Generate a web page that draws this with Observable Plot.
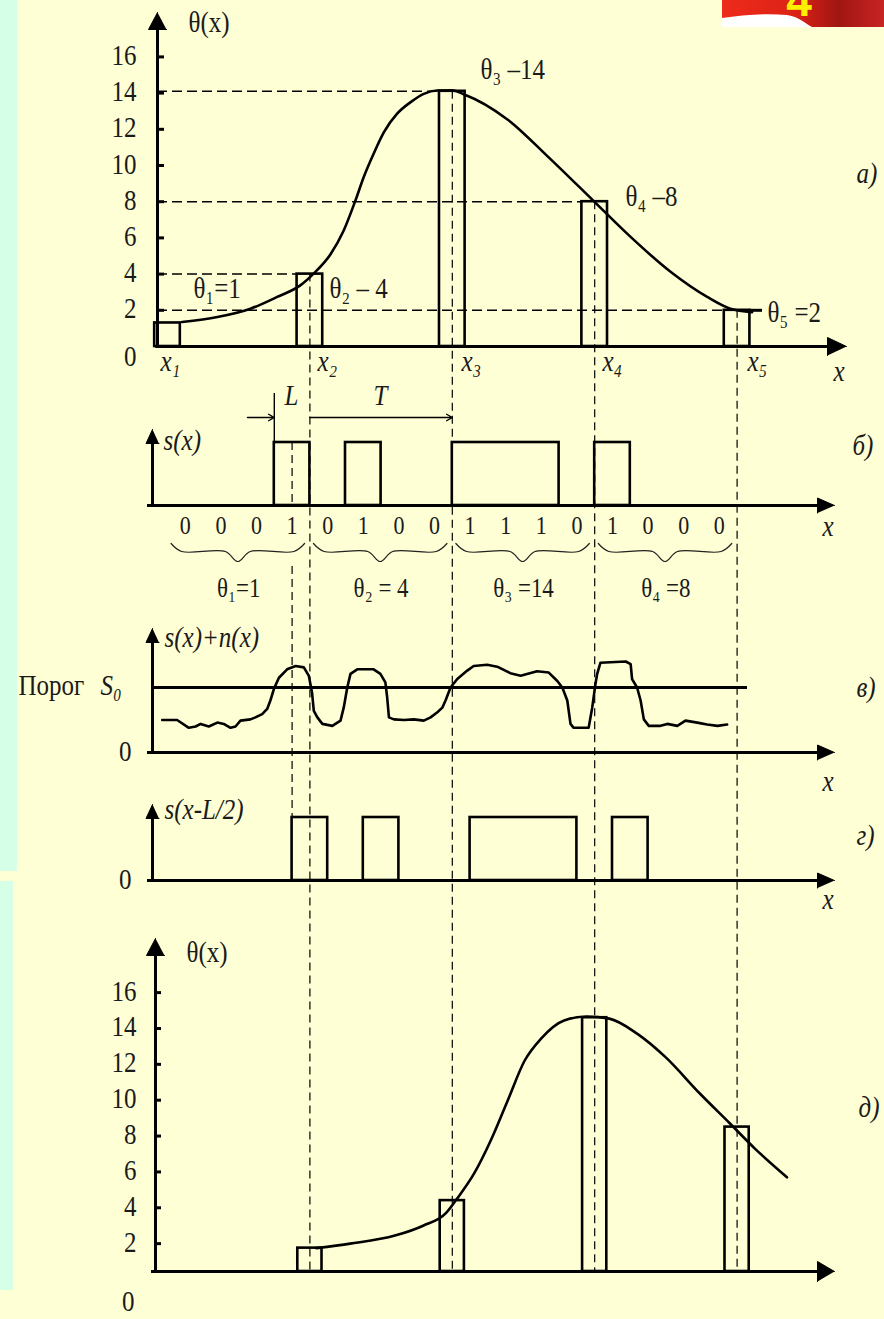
<!DOCTYPE html>
<html lang="ru">
<head>
<meta charset="utf-8">
<script src="https://cdn.jsdelivr.net/npm/d3@7"></script>
<script src="https://cdn.jsdelivr.net/npm/@observablehq/plot@0.6"></script>
<style>
  html, body { margin:0; padding:0; background:#FFFFD5; }
  #wrap { position:relative; width:884px; height:1319px; overflow:hidden; background:#FFFFD5; }
  .strip { position:absolute; left:0; background:#D5FFE6; }
  #chart { position:absolute; left:0; top:0; }
  #badge { position:absolute; left:722px; top:0; }
</style>
</head>
<body>
<div id="wrap">
  <div class="strip" style="top:0;width:17px;height:871px"></div>
  <div class="strip" style="top:881px;width:13px;height:409px"></div>
  <div id="chart"></div>
  <svg id="badge" width="162" height="28" viewBox="0 0 162 28">
    <defs>
      <linearGradient id="rg" x1="0" x2="1" y1="0" y2="0">
        <stop offset="0" stop-color="#EE2B1B"/>
        <stop offset="0.45" stop-color="#DC2216"/>
        <stop offset="0.72" stop-color="#A01612"/>
        <stop offset="1" stop-color="#C82424"/>
      </linearGradient>
    </defs>
    <rect x="0" y="0" width="162" height="27" fill="#ffffff"/>
    <path d="M0,0 H162 V27 H90 C84,24 78,17 65,15 C45,13 20,15 0,18 Z" fill="url(#rg)"/>
    <text x="77" y="16" text-anchor="middle" font-family="'Liberation Sans', Arial, sans-serif" font-weight="bold" font-size="46" fill="#FFF000">4</text>
  </svg>
</div>
<script>
// ================= DATA =================
// positions x1..x5 in bit-slot units
const xPos = [0, 4, 8, 12, 16];
const xNames = ["x₁", "x₂", "x₃", "x₄", "x₅"];
// panel а): sampled values θ(x_i)
const thetaA = [1.3, 4, 14.1, 8, 2];
const thetaALabels = ["θ₁=1", "θ₂ – 4", "θ₃ –14", "θ₄ –8", "θ₅ =2"];
const yTicks = [16, 14, 12, 10, 8, 6, 4, 2];
// panel а): continuous θ(x)
const curveAx = [0.41, 1.40, 2.33, 3.08, 3.74, 4.11, 4.58, 4.95, 5.28, 5.51, 5.79, 6.08, 6.45, 6.83, 7.2, 7.57, 8.0, 8.32, 9.54, 10.67, 11.98, 13.0, 14.13, 15.16, 15.81, 16.42];
const curveAy = [1.35, 1.63, 2.09, 2.74, 3.39, 4.04, 5.1, 6.41, 8.07, 9.35, 10.65, 11.84, 12.86, 13.5, 13.96, 14.14, 14.15, 13.94, 12.56, 10.52, 8.02, 6.07, 4.13, 2.74, 2.09, 1.9];
// panel б): binary code words
const bits = [[0,0,0,1],[0,1,0,0],[1,1,1,0],[1,0,0,0]];
const thetaQ = [1, 4, 14, 8];
const thetaQLabels = ["θ₁=1", "θ₂ = 4", "θ₃ =14", "θ₄ =8"];
const slotL = 1;          // pulse length L (in slots); T = 4 slots
// panel в): signal + noise (threshold S0 = 1)
const noiseX = [-0.15,0.27,0.60,0.79,0.93,1.16,1.40,1.58,1.77,1.91,
  2.05,2.33,2.47,2.66,2.80,2.89,2.99,3.13,3.36,3.60,
  3.83,3.97,4.06,4.11,4.21,4.35,4.63,4.86,4.95,5.05,
  5.14,5.33,5.79,5.98,6.12,6.17,6.22,6.36,6.64,6.92,
  7.20,7.39,7.58,7.72,7.81,7.95,8.14,8.42,8.60,8.98,
  9.26,9.63,9.92,10.38,10.71,10.95,11.09,11.23,11.32,11.41,
  11.83,11.93,12.02,12.07,12.16,12.87,13.01,13.05,13.19,13.29,
  13.38,13.52,13.85,14.04,14.32,14.55,14.88,15.16,15.45,15.72];
const noiseY = [0.50,0.50,0.38,0.40,0.44,0.40,0.46,0.44,0.38,0.40,
  0.49,0.51,0.54,0.59,0.67,0.80,0.98,1.15,1.28,1.33,
  1.31,1.18,0.92,0.64,0.54,0.44,0.41,0.49,0.69,1.00,
  1.21,1.28,1.28,1.21,1.08,0.85,0.54,0.51,0.50,0.51,
  0.49,0.54,0.62,0.69,0.80,1.00,1.13,1.26,1.33,1.35,
  1.32,1.22,1.18,1.25,1.23,1.10,1.00,0.80,0.44,0.38,
  0.38,0.69,1.05,1.21,1.38,1.40,1.36,1.13,1.00,0.80,
  0.51,0.41,0.41,0.44,0.41,0.49,0.46,0.43,0.41,0.43];
const threshold = 1;
// panel д): reconstructed samples and curve
const thetaD = [1.75, 4.4, 14.6, 8.5];
const curveDx = [4.18,5.13,6.39,7.18,7.82,8.13,8.61,9.08,9.56,10.03,10.5,11.14,11.77,12.41,13.2,13.99,14.94,15.8,16.5,17.4];
const curveDy = [1.75,2.0,2.45,3.0,3.7,4.5,5.9,7.75,10.0,12.2,13.45,14.45,14.67,14.55,13.7,12.4,10.4,8.7,7.3,5.7];
const panelTags = ["а)", "б)", "в)", "г)", "д)"];

// ================= LAYOUT =================
const W = 884, H = 1319;
const X0 = 167, SLOT = 35.6;
const u = px => (px - X0) / SLOT;
const A = {base: 346, k: 18.1, axis: u(157)};
const ya = v => A.base - A.k * v;
const B = {base: 505, top: 442, axis: u(152)};
const V = {base: 752, k: 65, axis: u(152)};
const yv = v => V.base - V.k * v;
const G = {base: 880, top: 817, axis: u(152)};
const D = {zero: 1279, k: 17.93, line: 1271, axis: u(155)};
const yd = v => D.zero - D.k * v;
const FONT = "'Liberation Serif','Times New Roman',serif";

// ================= DERIVED TABLES =================
const zip = (xs, ys) => xs.map((x, i) => ({x, y: ys[i]}));
const curveA = zip(curveAx, curveAy);
const curveD = zip(curveDx, curveDy);
const noise = zip(noiseX, noiseY);

function pulsesFrom(words) {
  const flat = words.flat(), out = [];
  let s = null;
  flat.forEach((b, i) => {
    if (b && s === null) s = i;
    if (!b && s !== null) { out.push({x1: s, x2: i}); s = null; }
  });
  if (s !== null) out.push({x1: s, x2: flat.length});
  return out;
}
const pulses = pulsesFrom(bits);
const pulsesShift = pulses.map(p => ({x1: p.x1 + slotL / 2, x2: p.x2 + slotL / 2}));

const barsA = xPos.map((x, i) => ({x, v: thetaA[i]}));
const barsD = xPos.slice(1).map((x, i) => ({x, v: thetaD[i]}));
const hDash = barsA.slice(1);

const bitText = bits.flatMap((w, g) => w.map((b, i) => ({x: 4 * g + i + 0.5, t: String(b)})));
const qText = thetaQ.map((q, g) => ({x: 4 * g + 2, t: thetaQLabels[g]}));

const braces = bits.flatMap((w, g) => {
  const x0 = 4 * g + 0.1, x1 = 4 * g + 3.85, m = (x0 + x1) / 2;
  return [[x0, 543], [x0 + 0.3, 551], [m - 0.35, 551], [m, 561], [m + 0.35, 551], [x1 - 0.3, 551], [x1, 543]]
    .map(([x, y]) => ({x, y, g}));
});

const vLines = [
  {x: pulses[0].x1 + slotL / 2, y1: B.top, y2: B.base},
  {x: pulses[0].x1 + slotL / 2, y1: 566, y2: G.top},
  ...xPos.slice(1).map((x, i) => ({x, y1: ya(thetaA[i + 1]), y2: D.line}))
];

const axesV = [
  {x: A.axis, y1: A.base + 1, y2: 26},
  {x: B.axis, y1: B.base + 1, y2: 440},
  {x: V.axis, y1: V.base + 1, y2: 640},
  {x: G.axis, y1: G.base + 1, y2: 816},
  {x: D.axis, y1: D.line + 1, y2: 952}
];
const axesH = [
  {y: A.base, x1: A.axis - 0.05, x2: u(830)},
  {y: B.base, x1: u(147), x2: u(820)},
  {y: V.base, x1: u(147), x2: u(820)},
  {y: G.base, x1: u(147), x2: u(820)},
  {y: D.line, x1: u(151), x2: u(820)}
];
const heads = [];
function upHead(id, x, tip, hw, h) {
  heads.push({id, x, y: tip}, {id, x: x - hw / SLOT, y: tip + h}, {id, x: x + hw / SLOT, y: tip + h});
}
function rightHead(id, tipX, y, hh, len) {
  heads.push({id, x: tipX, y}, {id, x: tipX - len / SLOT, y: y - hh}, {id, x: tipX - len / SLOT, y: y + hh});
}
upHead("a", A.axis, 12, 9, 17);
upHead("b", B.axis, 429, 6.5, 14);
upHead("v", V.axis, 628, 6.5, 14);
upHead("g", G.axis, 804, 6.5, 14);
upHead("d", D.axis, 938, 9, 17);
rightHead("ar", u(846), A.base, 9, 19);
rightHead("br", u(834), B.base, 7.5, 17);
rightHead("vr", u(834), V.base, 7.5, 17);
rightHead("gr", u(834), G.base, 7.5, 17);
rightHead("dr", u(834), D.line, 10, 17);

// text annotations: [px, py, text, italic, anchor]
const notes = [
  [188, 23, "θ(x)", 0, "start"],
  [193, 289, thetaALabels[0], 0, "start"],
  [329, 289, thetaALabels[1], 0, "start"],
  [480, 70, thetaALabels[2], 0, "start"],
  [625, 197, thetaALabels[3], 0, "start"],
  [767, 313, thetaALabels[4], 0, "start"],
  [856, 174, panelTags[0], 1, "start"],
  [833, 372, "x", 1, "start"],
  [136, 357, "0", 0, "end"],
  [291, 396, "L", 1, "middle"],
  [380, 396, "T", 1, "middle"],
  [163, 441, "s(x)", 1, "start"],
  [852, 446, panelTags[1], 1, "start"],
  [822, 527, "x", 1, "start"],
  [164, 638, "s(x)+n(x)", 1, "start"],
  [18, 686, "Порог", 0, "start"],
  [100, 686, "S₀", 1, "start"],
  [131, 752, "0", 0, "end"],
  [856, 688, panelTags[2], 1, "start"],
  [822, 782, "x", 1, "start"],
  [164, 810, "s(x-L/2)", 1, "start"],
  [131, 880, "0", 0, "end"],
  [856, 836, panelTags[3], 1, "start"],
  [822, 900, "x", 1, "start"],
  [186, 953, "θ(x)", 0, "start"],
  [134, 1302, "0", 0, "end"],
  [858, 1108, panelTags[4], 1, "start"]
].map(([px, py, t, it, a]) => ({x: u(px), y: py, t, it, a}));
const xLabelPx = [160, 317, 461, 602, 747];

function T(data, o) {
  return Plot.text(data, {fontFamily: FONT, fontSize: 25, fill: "#1a1a1a", ...o});
}
const noteMarks = [];
for (const a of ["start", "middle", "end"]) {
  for (const it of [0, 1]) {
    const sub = notes.filter(d => d.a === a && d.it === it);
    if (sub.length) noteMarks.push(T(sub, {x: "x", y: "y", text: "t", textAnchor: a, fontStyle: it ? "italic" : "normal"}));
  }
}

const chart = Plot.plot({
  width: W, height: H, margin: 0,
  x: {type: "linear", domain: [u(0), u(W)], range: [0, W], axis: null},
  y: {type: "linear", domain: [0, H], range: [0, H], axis: null},
  style: {background: "transparent", overflow: "visible"},
  marks: [
    // long vertical dashed guides
    Plot.ruleX(vLines, {x: "x", y1: "y1", y2: "y2", stroke: "#000", strokeWidth: 1.2, strokeDasharray: "8,5"}),
    // panel а horizontal dashed guides
    Plot.ruleY(hDash, {y: d => ya(d.v), x1: () => A.axis, x2: d => d.x - 0.36, stroke: "#000", strokeWidth: 1.5, strokeDasharray: "10,5"}),
    // axes
    Plot.ruleX(axesV, {x: "x", y1: "y1", y2: "y2", stroke: "#000", strokeWidth: 3}),
    Plot.ruleY(axesH, {y: "y", x1: "x1", x2: "x2", stroke: "#000", strokeWidth: 3}),
    Plot.line(heads, {x: "x", y: "y", z: "id", fill: "#000", stroke: "#000", strokeWidth: 1}),
    // ticks
    Plot.ruleY(yTicks, {y: d => ya(d), x1: () => A.axis, x2: () => u(164), stroke: "#000", strokeWidth: 3}),
    Plot.ruleY(yTicks, {y: d => yd(d), x1: () => D.axis, x2: () => u(161), stroke: "#000", strokeWidth: 3}),
    // panel а
    Plot.rect(barsA, {x1: d => d.x - 0.36, x2: d => d.x + 0.36, y1: () => A.base, y2: d => ya(d.v), fill: "none", stroke: "#000", strokeWidth: 2.6}),
    Plot.line(curveA, {x: "x", y: d => ya(d.y), curve: "monotone-x", stroke: "#000", strokeWidth: 2.6}),
    Plot.ruleY([thetaA[4]], {y: d => ya(d), x1: () => xPos[4] + 0.36, x2: () => u(762), stroke: "#000", strokeWidth: 3}),
    // panel б
    Plot.rect(pulses, {x1: "x1", x2: "x2", y1: () => B.base, y2: () => B.top, fill: "none", stroke: "#000", strokeWidth: 2.6}),
    Plot.ruleX([pulses[0].x1], {x: d => d, y1: () => 393, y2: () => B.top, stroke: "#000", strokeWidth: 1.4}),
    Plot.arrow([{x1: u(247), x2: pulses[0].x1}, {x1: 4, x2: 8}], {x1: "x1", x2: "x2", y1: () => 417, y2: () => 417, stroke: "#000", strokeWidth: 1.4, headLength: 7}),
    Plot.line(braces, {x: "x", y: "y", z: "g", curve: "catmull-rom", stroke: "#222", strokeWidth: 1.2}),
    T(bitText, {x: "x", y: () => 526, text: "t", fontSize: 22}),
    T(qText, {x: "x", y: () => 589, text: "t", fontSize: 23}),
    // panel в
    Plot.ruleY([threshold], {y: d => yv(d), x1: () => V.axis, x2: () => u(747), stroke: "#000", strokeWidth: 3}),
    Plot.line(noise, {x: "x", y: d => yv(d.y), stroke: "#000", strokeWidth: 2.6}),
    // panel г
    Plot.rect(pulsesShift, {x1: "x1", x2: "x2", y1: () => G.base, y2: () => G.top, fill: "none", stroke: "#000", strokeWidth: 2.6}),
    // panel д
    Plot.rect(barsD, {x1: d => d.x - 0.34, x2: d => d.x + 0.34, y1: () => D.line, y2: d => yd(d.v), fill: "none", stroke: "#000", strokeWidth: 2.6}),
    Plot.line(curveD, {x: "x", y: d => yd(d.y), curve: "monotone-x", stroke: "#000", strokeWidth: 2.6}),
    // tick labels
    T(yTicks, {x: () => u(136), y: d => ya(d), text: d => String(d), textAnchor: "end"}),
    T(yTicks, {x: () => u(136), y: d => yd(d), text: d => String(d), textAnchor: "end"}),
    // x labels
    T(xNames, {x: (d, i) => u(xLabelPx[i]), y: () => 362, text: d => d, textAnchor: "start", fontStyle: "italic"}),
    // annotations
    ...noteMarks
  ]
});

document.getElementById("chart").appendChild(chart);

// slightly tall, narrow text like the source typesetting: scale each label about its own anchor
chart.querySelectorAll("text").forEach(t => {
  let x = 0, y = 0;
  try { if (t.x.baseVal.numberOfItems) x = t.x.baseVal.getItem(0).value; } catch (e) {}
  try { if (t.y.baseVal.numberOfItems) y = t.y.baseVal.getItem(0).value; } catch (e) {}
  if (!isFinite(x)) x = 0;
  if (!isFinite(y)) y = 0;
  const tr = t.getAttribute("transform") || "";
  t.setAttribute("transform", `${tr} translate(${x},${y}) scale(1,1.15) translate(${-x},${-y})`);
});
</script>
</body>
</html>
